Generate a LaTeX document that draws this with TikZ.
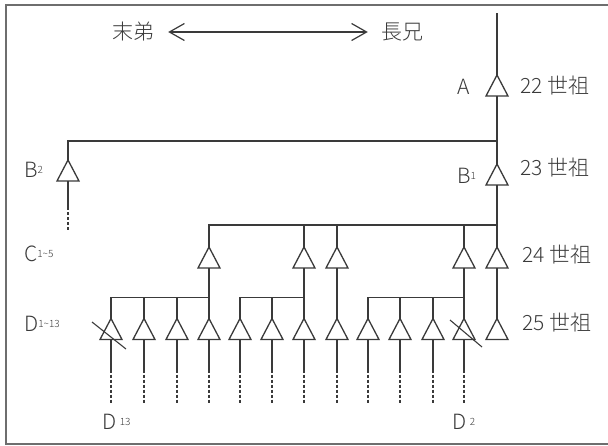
\documentclass[tikz,border=0pt]{standalone}
\usepackage{fontspec}
\setmainfont{Noto Sans CJK JP Light}
\usetikzlibrary{arrows.meta}
\definecolor{ink}{HTML}{3A3A3A}
\definecolor{framec}{HTML}{6E6E6E}
\newcommand\smallidx[1]{{\fontsize{10}{10}\selectfont\raisebox{4pt}{#1}}}
\tikzset{
  link/.style={draw=ink,line width=1.3pt},
  trail/.style={draw=ink,line width=1.6pt,dash pattern=on 3pt off 2pt},
  slashline/.style={draw=ink,line width=1.1pt},
  lbl/.style={text=ink,font=\fontsize{21}{21}\selectfont,inner sep=0pt},
  framel/.style={draw=framec,line width=2pt},
  dirarrow/.style={draw=ink,line width=1.2pt,{Straight Barb[length=15pt,width=17pt]}-{Straight Barb[length=15pt,width=17pt]},shorten <=14pt,shorten >=13pt},
  tri/.pic={
    \draw[ink,line width=1.3pt,fill=white,line join=miter] (-11,10.5) -- (0,-10.5) -- (11,10.5) -- cycle;
    \coordinate (-t) at (0,-10.5);
    \coordinate (-b) at (0,10.5);
  }
}
\begin{document}
\begin{tikzpicture}[x=1pt,y=-1pt]
\useasboundingbox (0,0) rectangle (608,445);
\draw[framel] (610,5) -- (6,5) -- (6,444) -- (610,444);

% top arrow
\node[lbl] (mo) at (133,32) {末弟};
\node[lbl] (cho) at (402,32) {長兄};
\draw[dirarrow] (mo) -- (cho);

% triangles
\pic (A) at (497,85.5) {tri};
\pic (B1) at (497,174.5) {tri};
\pic (B2) at (68,170.5) {tri};
\foreach \n/\x in {c1/209,c2/304,c3/337,c4/464,c5/497}
  \pic (\n) at (\x,257.5) {tri};
\foreach \n/\x in {d1/111,d2/144,d3/177,d4/209,d5/240,d6/272,d7/304,d8/337,d9/368,d10/400,d11/433,d12/464,d13/497}
  \pic (\n) at (\x,329) {tri};

% connectors
\coordinate (top) at (497,13);
\coordinate (jB) at (497,141);
\coordinate (jC) at (497,225);
\coordinate (j1) at (209,297.5);
\coordinate (j2) at (304,297.5);
\coordinate (j3) at (464,297.5);
\draw[link] (top) -- (A-t);
\draw[link] (A-b) -- (B1-t);
\draw[link] (jB) -| (B2-t);
\draw[link] (B2-b) -- ++(0,26) coordinate (B2s);
\draw[trail] (B2s) -- ++(0,24);
\draw[link] (B1-b) -- (jC);
\foreach \n in {c1,c2,c3,c4} \draw[link] (jC) -| (\n-t);
\draw[link] (jC) -- (c5-t);
\draw[link] (c1-b) -- (d4-t);
\foreach \n in {d1,d2,d3} \draw[link] (j1) -| (\n-t);
\draw[link] (c2-b) -- (d7-t);
\foreach \n in {d5,d6} \draw[link] (j2) -| (\n-t);
\draw[link] (c3-b) -- (d8-t);
\draw[link] (c4-b) -- (d12-t);
\foreach \n in {d9,d10,d11} \draw[link] (j3) -| (\n-t);
\draw[link] (c5-b) -- (d13-t);
\foreach \n in {d1,d2,d3,d4,d5,d6,d7,d8,d9,d10,d11,d12}{
  \draw[link] (\n-b) -- ++(0,30) coordinate (\n-s);
  \draw[trail] (\n-s) -- ++(0,34);
}

% slashes
\draw[slashline] (92,322) -- (126,349);
\draw[slashline] (450,320) -- (482,347);

% labels
\node[lbl] (lA) at (463.5,87) {A};
\node[lbl,anchor=west] (g22) at (520,86) {22 世祖};
\node[lbl,anchor=west] (lB1) at (457,176) {B\smallidx{1}};
\node[lbl,anchor=west] (g23) at (520,168) {23 世祖};
\node[lbl,anchor=west] (lB2) at (24,170) {B\smallidx{2}};
\node[lbl,anchor=west] (lC) at (24,254) {C\smallidx{1\textasciitilde5}};
\node[lbl,anchor=west] (g24) at (522,255) {24 世祖};
\node[lbl,anchor=west] (lD) at (24,324) {D\smallidx{1\textasciitilde13}};
\node[lbl,anchor=west] (g25) at (522,323) {25 世祖};
\node[lbl,anchor=west] (lD13) at (102,422) {D\,\smallidx{13}};
\node[lbl,anchor=west] (lD2) at (452,422) {D\,\smallidx{2}};
\end{tikzpicture}
\end{document}
